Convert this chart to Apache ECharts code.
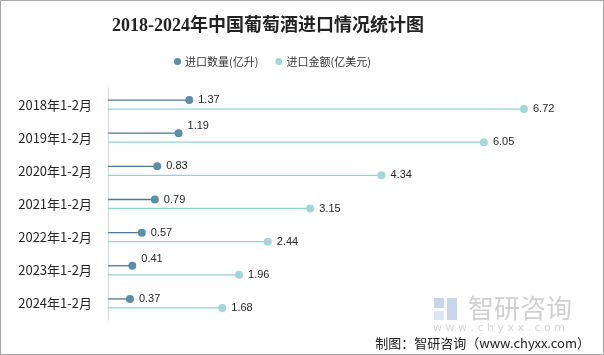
<!DOCTYPE html>
<html>
<head>
<meta charset="utf-8">
<script src="https://cdn.jsdelivr.net/npm/echarts@6/dist/echarts.min.js"></script>
<style>html,body{margin:0;padding:0;background:#fff}#c{width:604px;height:355px}</style>
</head>
<body>
<div id="c"></div>
<script>
const categories = ['2018年1-2月','2019年1-2月','2020年1-2月','2021年1-2月','2022年1-2月','2023年1-2月','2024年1-2月'];
const quantity = [1.37, 1.19, 0.83, 0.79, 0.57, 0.41, 0.37];
const amount = [6.72, 6.05, 4.34, 3.15, 2.44, 1.96, 1.68];
const seriesNames = ['进口数量(亿升)', '进口金额(亿美元)'];

const labelFont = '11px "Liberation Sans", Arial, sans-serif';
const qLift = {1: 7, 5: 7};

function makeRender(dotColor, lineColor, dy, r, lifts) {
  return function (params, api) {
    const v = api.value(0);
    const idx = params.dataIndex;
    const p = api.coord([v, api.value(1)]);
    const x0 = params.coordSys.x;
    const y = p[1] + dy;
    const ly = y - ((lifts && lifts[idx]) || 0);
    return {
      type: 'group',
      children: [
        { type: 'line', shape: { x1: x0, y1: y, x2: p[0], y2: y }, style: { stroke: lineColor, lineWidth: 1.3 } },
        { type: 'circle', shape: { cx: p[0], cy: y, r: r }, style: { fill: dotColor } },
        { type: 'text', style: { text: v.toFixed(2), x: p[0] + 9, y: ly, fill: '#262626', font: labelFont, verticalAlign: 'middle', align: 'left' } }
      ]
    };
  };
}

const chart = echarts.init(document.getElementById('c'));
chart.setOption({
  animation: false,
  backgroundColor: '#fff',
  title: {
    text: '2018-2024年中国葡萄酒进口情况统计图',
    left: 107, top: 12,
    textStyle: { fontFamily: '"Liberation Serif", "Noto Sans CJK SC", serif', fontSize: 18, fontWeight: 'bold', color: '#222' }
  },
  legend: {
    top: 51, left: 169, itemWidth: 7, itemHeight: 7, itemGap: 17, icon: 'circle',
    textStyle: { fontFamily: '"Noto Sans CJK SC", sans-serif', fontSize: 11, color: '#333', padding: [0, 0, 0, -1] },
    data: seriesNames
  },
  grid: { left: 108, top: 88, height: 232, width: 437 },
  xAxis: [
    { type: 'value', min: 0, max: 7.37, show: false },
    { type: 'value', min: -0.229, max: 7.071, show: false }
  ],
  yAxis: {
    type: 'category', data: categories, inverse: true,
    axisLine: { show: true, lineStyle: { color: '#d9d9d9' } },
    axisTick: { show: false },
    axisLabel: { margin: 16, fontFamily: '"Noto Sans CJK SC", sans-serif', fontSize: 13, color: '#262626' }
  },
  series: [
    {
      name: seriesNames[0], type: 'custom', xAxisIndex: 0,
      itemStyle: { color: '#5b8fa8' },
      encode: { x: 0, y: 1 },
      data: quantity.map((v, i) => [v, categories[i]]),
      renderItem: makeRender('#5b8fa8', '#4f7896', -4.5, 4, qLift)
    },
    {
      name: seriesNames[1], type: 'custom', xAxisIndex: 1,
      itemStyle: { color: '#a0d8d8' },
      encode: { x: 0, y: 1 },
      data: amount.map((v, i) => [v, categories[i]]),
      renderItem: makeRender('#a0d8d8', '#94d2d0', 4.5, 4, null)
    }
  ],
  graphic: [
    { type: 'rect', z: -10, silent: true, shape: { x: 0.5, y: 0.5, width: 603, height: 354 }, style: { fill: 'none', stroke: '#a6a6a6', lineWidth: 1 } },
    { type: 'rect', silent: true, shape: { x: 434, y: 298, width: 10, height: 10 }, style: { fill: '#c6d7ec' } },
    { type: 'rect', silent: true, shape: { x: 447, y: 298, width: 10, height: 22 }, style: { fill: '#c6d7ec' } },
    { type: 'rect', silent: true, shape: { x: 434, y: 311, width: 10, height: 9 }, style: { fill: '#dbe6f2' } },
    { type: 'text', silent: true, style: { text: '智研咨询', x: 468, y: 308, verticalAlign: 'middle', font: '26px "Noto Sans CJK SC", sans-serif', fill: '#d0d0d0' } },
    { type: 'text', silent: true, style: { text: 'w w w . c h y x x . c o m', x: 433, y: 328, verticalAlign: 'middle', font: '11px "DejaVu Sans", sans-serif', fill: '#d6d6d6' } },
    { type: 'text', silent: true, style: { text: '制图：智研咨询（www.chyxx.com）', x: 590, y: 343, align: 'right', verticalAlign: 'middle', font: '13px "Noto Sans CJK SC", sans-serif', fill: '#222' } }
  ]
});
</script>
</body>
</html>
